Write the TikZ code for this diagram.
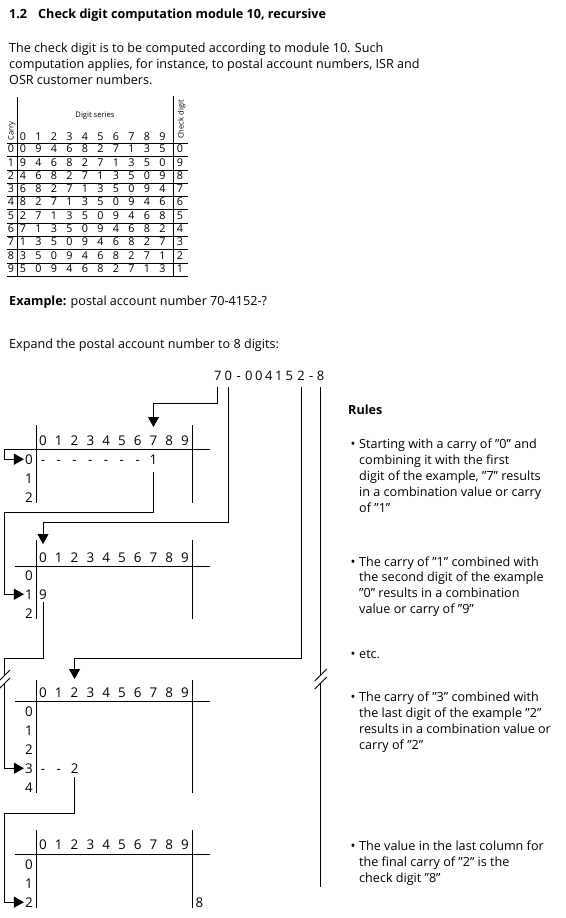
\documentclass[tikz,border=0pt]{standalone}
\usepackage{fontspec}
\setmainfont{Open Sans}
\usetikzlibrary{arrows.meta,calc}
\newcommand{\brkmark}[2]{%
  \fill[white] ({#1-6},{#2+2}) -- ({#1+6},{#2-10}) -- ({#1+6},{#2-2}) -- ({#1-6},{#2+10}) -- cycle;
  \draw[conn] ({#1-6},{#2+2}) -- ({#1+6},{#2-10});
  \draw[conn] ({#1-6},{#2+10}) -- ({#1+6},{#2-2});
}
\begin{document}
\begin{tikzpicture}[x=1pt,y=-1pt,
  txt/.style={anchor=base west,inner sep=0pt,font=\fontsize{12.6}{15}\selectfont},
  hd/.style={anchor=base west,inner sep=0pt,font=\fontsize{12.6}{15}\selectfont\bfseries},
  dg/.style={anchor=base,inner sep=0pt,font=\fontsize{13.4}{15}\selectfont},
  num/.style={anchor=base,inner sep=0pt,font=\fontsize{13}{15}\selectfont},
  lbl/.style={anchor=base east,inner sep=0pt,font=\fontsize{13.4}{15}\selectfont},
  tdg/.style={anchor=base,inner sep=0pt,font=\fontsize{10.8}{12}\selectfont},
  tsm/.style={inner sep=0pt,font=\fontsize{7.6}{9}\selectfont},
  bul/.style={anchor=base,inner sep=0pt,font=\fontsize{13}{15}\selectfont},
  rl/.style={line width=0.8pt},
  conn/.style={line width=0.85pt},
  arr/.style={conn,-{Triangle[length=10pt,width=11pt]}},
]
\fill[white] (0,0) rectangle (565,918);
\useasboundingbox (0,0) rectangle (565,918);

% ---------- heading and text ----------
\node[hd] (t12) at (9,18.5) {1.2};
\node[hd] (ttl) at (38,18.5) {Check digit computation module 10, recursive};
\node[txt] (p1) at (9,52) {The check digit is to be computed according to module 10. Such};
\node[txt] (p2) at (9,68) {computation applies, for instance, to postal account numbers, ISR and};
\node[txt] (p3) at (9,84) {OSR customer numbers.};

% ---------- big table ----------
\foreach \k in {0,...,10} \draw[rl] (7,{143.3+13.3*\k}) -- (188,{143.3+13.3*\k});
\draw[rl] (17,97) -- (17,276.3);
\draw[rl] (173,96) -- (173,276.3);
\node[tsm] (ds) at (95,115.5) {Digit series};
\node[tsm,rotate=90,anchor=base west] (cy) at (13.5,140.5) {Carry};
\node[tsm,rotate=90,anchor=base west] (cd) at (183.5,139) {Check digit};
\foreach \k in {0,...,9} \node[tdg] (th\k) at ({23+15.5*\k},140.5) {\k};
\foreach \rowlist [count=\rowidx from 0] in {
  {0,9,4,6,8,2,7,1,3,5,0},
  {9,4,6,8,2,7,1,3,5,0,9},
  {4,6,8,2,7,1,3,5,0,9,8},
  {6,8,2,7,1,3,5,0,9,4,7},
  {8,2,7,1,3,5,0,9,4,6,6},
  {2,7,1,3,5,0,9,4,6,8,5},
  {7,1,3,5,0,9,4,6,8,2,4},
  {1,3,5,0,9,4,6,8,2,7,3},
  {3,5,0,9,4,6,8,2,7,1,2},
  {5,0,9,4,6,8,2,7,1,3,1}} {
  \node[tdg] (tc\rowidx) at (11,{152.7+13.3*\rowidx}) {\rowidx};
  \foreach \v [count=\colidx from 0] in \rowlist {
    \pgfmathsetmacro\xx{\colidx<10 ? 23+15.5*\colidx : 180}
    \node[tdg] (t\rowidx-\colidx) at (\xx,{152.7+13.3*\rowidx}) {\v};
  }
}

\node[txt] (ex) at (9,305) {\textbf{Example:} postal account number 70-4152-?};
\node[txt] (xp) at (9,348) {Expand the postal account number to 8 digits:};

% ---------- expanded number ----------
\foreach \ch/\xx/\nm in {7/217.8/n7, 0/228.3/n0, -/238.8/nh1, 0/248.8/nz2, 0/258.8/nz3,
   4/268.8/n4, 1/278.8/n1, 5/289.3/n5, 2/301.2/n2, -/311.2/nh2, 8/320.7/n8}
  \node[num] (\nm) at (\xx,380) {\ch};

% ---------- table A ----------
\draw[rl] (36,425) -- (36,503);
\draw[rl] (192,425) -- (192,503);
\draw[rl] (4,449) -- (210,449);
\foreach \k in {0,...,9} \node[dg] (A\k) at ({43+15.78*\k},445) {\k};
\foreach \r in {0,1,2} \node[lbl] (Al\r) at (33,{464+19*\r}) {\r};
\foreach \k in {0,...,6} \node[dg] (Ad\k) at ({43+15.78*\k},464) {-};
\node[dg] (Aone) at (153.5,464) {1};

% ---------- table B ----------
\draw[rl] (36,540) -- (36,619);
\draw[rl] (192,540) -- (192,619);
\draw[rl] (15,566) -- (210,566);
\foreach \k in {0,...,9} \node[dg] (B\k) at ({43+15.78*\k},562) {\k};
\foreach \r in {0,1,2} \node[lbl] (Bl\r) at (33,{580+19*\r}) {\r};
\node[dg] (Bnine) at (43,599) {9};

% ---------- table C ----------
\draw[rl] (36,680) -- (36,793);
\draw[rl] (192,680) -- (192,793);
\draw[rl] (15,701) -- (210,701);
\foreach \k in {0,...,9} \node[dg] (C\k) at ({43+15.78*\k},697) {\k};
\foreach \r in {0,...,4} \node[lbl] (Cl\r) at (33,{716+19*\r}) {\r};
\foreach \k in {0,1} \node[dg] (Cd\k) at ({43+15.78*\k},773) {-};
\node[dg] (Ctwo) at (74.6,773) {2};

% ---------- table D ----------
\draw[rl] (36,830) -- (36,908);
\draw[rl] (192,830) -- (192,908);
\draw[rl] (15,854) -- (210,854);
\foreach \k in {0,...,9} \node[dg] (D\k) at ({43+15.78*\k},849) {\k};
\foreach \r in {0,1,2} \node[lbl] (Dl\r) at (33,{869+19*\r}) {\r};
\node[dg,anchor=base west] (Deight) at (195.5,907) {8};

% ---------- connectors ----------
\coordinate (Astart) at (4,449);
\coordinate (kA) at (4,512);
\coordinate (kB) at (4,658);
\coordinate (kC) at (4,813);
\coordinate (e8) at (320.7,887);

\draw[arr] ($(n7.base)+(0,7)$) |- ($(A7.base)+(0,-42)$) -- ($(A7.base)+(0,-18)$);
\draw[arr] ($(n0.base)+(0,7)$) |- ($(B0.base)+(0,-40)$) -- ($(B0.base)+(0,-18)$);
\draw[arr] ($(n2.base)+(0,7)$) |- ($(C2.base)+(0,-39)$) -- ($(C2.base)+(0,-18)$);
\draw[conn] ($(n8.base)+(0,7)$) -- (e8);

\draw[arr] (Astart) |- ($(Al0.west)+(-1,0)$);
\draw[arr] ($(Aone.base)+(0,8)$) |- (kA) |- ($(Bl1.west)+(-1,0)$);
\draw[arr] ($(Bnine.base)+(0,3)$) |- (kB) |- ($(Cl3.west)+(-1,0)$);
\draw[arr] ($(Ctwo.base)+(0,4)$) |- (kC) |- ($(Dl2.west)+(-1,0)$);

\brkmark{4}{680}
\brkmark{320.7}{679}

% ---------- rules ----------
\node[hd] (rh) at (348,414) {Rules};
\node[bul] (ba) at (353,448) {•};
\foreach \lntext [count=\lnidx from 0] in {{Starting with a carry of ”0” and},{combining it with the first},{digit of the example, ”7” results},{in a combination value or carry},{of ”1”}}
  \node[txt] (ra\lnidx) at (359,{448+16.2*\lnidx}) {\lntext};
\node[bul] (bb) at (353,566) {•};
\foreach \lntext [count=\lnidx from 0] in {{The carry of ”1” combined with},{the second digit of the example},{”0” results in a combination},{value or carry of ”9”}}
  \node[txt] (rb\lnidx) at (359,{566+15.8*\lnidx}) {\lntext};
\node[bul] (bc) at (353,658) {•};
\node[txt] (rc0) at (359,658) {etc.};
\node[bul] (bd) at (353,701) {•};
\foreach \lntext [count=\lnidx from 0] in {{The carry of ”3” combined with},{the last digit of the example ”2”},{results in a combination value or},{carry of ”2”}}
  \node[txt] (rd\lnidx) at (359,{701+16*\lnidx}) {\lntext};
\node[bul] (be) at (353,850) {•};
\foreach \lntext [count=\lnidx from 0] in {{The value in the last column for},{the final carry of ”2” is the},{check digit ”8”}}
  \node[txt] (re\lnidx) at (359,{850+16*\lnidx}) {\lntext};
\end{tikzpicture}
\end{document}
